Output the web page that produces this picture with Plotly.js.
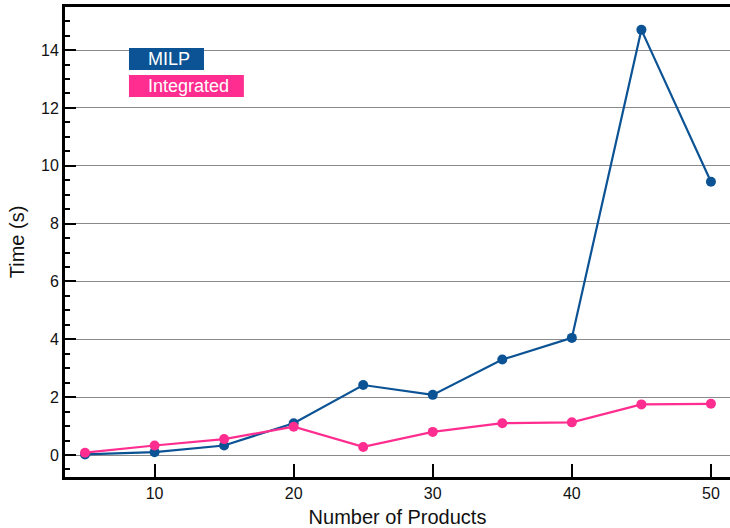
<!DOCTYPE html>
<html>
<head>
<meta charset="utf-8">
<script src="https://cdn.plot.ly/plotly-3.0.1.min.js"></script>
<style>html,body{margin:0;padding:0;background:#fff;}#chart{width:730px;height:528px;}</style>
</head>
<body>
<div id="chart"></div>
<script>
const products = [5, 10, 15, 20, 25, 30, 35, 40, 45, 50];
const milp = [0.02, 0.10, 0.33, 1.10, 2.42, 2.08, 3.30, 4.05, 14.70, 9.45];
const integrated = [0.08, 0.33, 0.55, 0.98, 0.28, 0.80, 1.10, 1.13, 1.75, 1.77];
const seriesNames = ["MILP", "Integrated"];
const xTicks = [10, 20, 30, 40, 50];

const blue = "#0b5394";
const pink = "#ff2d8f";
const font = "Liberation Sans, Arial, Helvetica, sans-serif";

const traces = [
  {x: products, y: milp, name: seriesNames[0], mode: "lines+markers",
   line: {color: blue, width: 2.2}, marker: {color: blue, size: 10}},
  {x: products, y: integrated, name: seriesNames[1], mode: "lines+markers",
   line: {color: pink, width: 2.2}, marker: {color: pink, size: 10}}
];

const layout = {
  width: 730, height: 528,
  margin: {l: 65, r: 0, t: 7, b: 51},
  paper_bgcolor: "#fff", plot_bgcolor: "#fff",
  showlegend: false,
  font: {family: font, size: 16, color: "#111"},
  xaxis: {
    range: [3.56, 51.37], tickvals: xTicks, ticktext: xTicks.map(String),
    ticks: "inside", ticklen: 13, tickwidth: 2, tickcolor: "#000",
    showline: true, linecolor: "#000", linewidth: 3, mirror: true,
    showgrid: false, zeroline: false,
    title: {text: "Number of Products", font: {size: 20, family: font}, standoff: 12},
    tickfont: {size: 16}
  },
  yaxis: {
    range: [-0.76, 15.49], dtick: 2, tick0: 0,
    ticks: "inside", ticklen: 11, tickwidth: 2, tickcolor: "#000",
    minor: {dtick: 0.5, ticks: "inside", ticklen: 5, tickwidth: 2, tickcolor: "#000", showgrid: false},
    showline: true, linecolor: "#000", linewidth: 3, mirror: false,
    showgrid: true, gridcolor: "#8a8a8a", gridwidth: 1,
    zeroline: false,
    title: {text: "Time (s)", font: {size: 20, family: font}, standoff: 12},
    tickfont: {size: 16}
  },
  shapes: [
    {type: "rect", xref: "paper", yref: "paper", x0: 0.0962, x1: 0.209, y0: 0.866, y1: 0.9128,
     fillcolor: blue, line: {width: 0}, layer: "above"},
    {type: "rect", xref: "paper", yref: "paper", x0: 0.0962, x1: 0.269, y0: 0.8085, y1: 0.8553,
     fillcolor: pink, line: {width: 0}, layer: "above"}
  ],
  annotations: [
    {xref: "paper", yref: "paper", x: 0.1218, y: 0.889, xanchor: "left", yanchor: "middle",
     text: seriesNames[0], showarrow: false, font: {color: "#fff", size: 18, family: font}},
    {xref: "paper", yref: "paper", x: 0.1218, y: 0.832, xanchor: "left", yanchor: "middle",
     text: seriesNames[1], showarrow: false, font: {color: "#fff", size: 18, family: font}}
  ]
};

Plotly.newPlot("chart", traces, layout, {displayModeBar: false, staticPlot: true});
</script>
</body>
</html>
